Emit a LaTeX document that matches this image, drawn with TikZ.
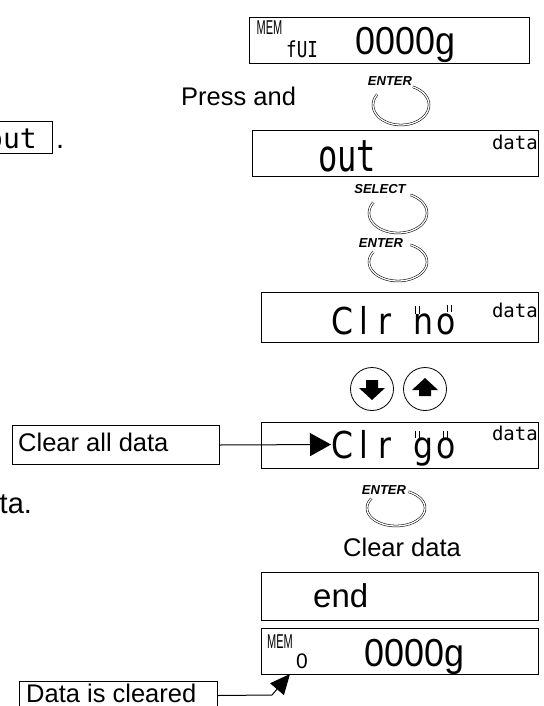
\documentclass[tikz,border=0pt]{standalone}
\usepackage{fontspec}
\usepackage{graphicx}
\setmainfont{Liberation Sans}
\newfontfamily\dvmono{DejaVu Sans Mono}
\newfontfamily\dvsans{DejaVu Sans}
\usetikzlibrary{arrows.meta,calc}
\newcommand\fsz[1]{\fontsize{#1}{#1}\selectfont}
\tikzset{
  lcdbox/.style={draw, line width=1.4pt, minimum height=46pt, inner sep=0pt},
  callout/.style={draw, line width=1pt, inner sep=0pt},
  txt/.style={inner sep=0pt, anchor=base west},
  btnlabel/.style={inner sep=0pt, font=\bfseries\itshape\fsz{13}},
  dbl/.style={double, double distance=1.3pt, line width=0.55pt},
  arrowbtn/.style={circle, draw, line width=0.8pt, minimum size=43pt, inner sep=0pt},
  tick/.style={line width=0.9pt},
  conn/.style={line width=1pt},
}
% button arc: centre x, centre y, x radius, y radius
\newcommand\btnarc[4]{\draw[dbl] plot[domain=-65:212, samples=60, smooth] ({#1+#3*cos(\x)},{#2+#4*sin(\x)});}
\begin{document}
\begin{tikzpicture}[x=1pt,y=-1pt]
\useasboundingbox (0,0) rectangle (543,706);
\begin{scope}
\clip (0,0) rectangle (543,706);
% LCD boxes
\node[lcdbox, minimum width=280pt, anchor=north west] (d1) at (249,17) {};
\node[lcdbox, minimum width=286pt, anchor=north west] (d2) at (252,130) {};
\node[lcdbox, minimum width=277pt, minimum height=50pt, anchor=north west] (d3) at (261,292) {};
\node[lcdbox, minimum width=277pt, anchor=north west] (d4) at (261,422) {};
\node[lcdbox, minimum width=277pt, minimum height=48pt, anchor=north west] (d5) at (261,572) {};
\node[lcdbox, minimum width=277pt, anchor=north west] (d6) at (261,628) {};
% display 1
\node[txt] (m1) at (256.5,35) {\scalebox{0.55}[1]{\fsz{20}MEM}};
\node[txt] (f1) at (286,58) {\dvmono\fsz{22}\scalebox{0.8}[1]{fUI}};
\node[txt] (g1) at (355,55) {\fsz{39}\scalebox{0.92}[1]{0000g}};
% display 2
\node[txt] (o2) at (318,171) {\dvmono\fsz{44}\scalebox{0.73}[1]{out}};
\node[txt, anchor=base east] (da2) at (538,149) {\dvmono\fsz{19}data};
% display 3
\node[txt] (c3) at (331,334) {\dvsans\fsz{37}\scalebox{0.85}[1]{C}};
\node[txt] (l3) at (359,334) {\dvsans\fsz{37}\scalebox{0.85}[1]{l}};
\node[txt] (r3) at (378,334) {\dvsans\fsz{37}\scalebox{0.85}[1]{r}};
\node[txt] (h3) at (413,334) {\dvsans\fsz{37}\scalebox{0.85}[1]{h}};
\node[txt] (b3) at (436,334) {\dvsans\fsz{37}\scalebox{0.85}[1]{o}};
\fill[white] (414,304) rectangle (421.5,313.5);
\draw[tick] (415.5,306) -- (415.5,314) (419.5,306) -- (419.5,314);
\draw[tick] (447,305) -- (447,312) (451,305) -- (451,312);
\node[txt, anchor=base east] (da3) at (538,317) {\dvmono\fsz{19}data};
% display 4
\node[txt] (c4) at (331,458) {\dvsans\fsz{37}\scalebox{0.85}[1]{C}};
\node[txt] (l4) at (359,458) {\dvsans\fsz{37}\scalebox{0.85}[1]{l}};
\node[txt] (r4) at (378,458) {\dvsans\fsz{37}\scalebox{0.85}[1]{r}};
\node[txt] (g4) at (413,458) {\dvsans\fsz{37}\scalebox{0.85}[1]{g}};
\node[txt] (b4) at (436,458) {\dvsans\fsz{37}\scalebox{0.85}[1]{o}};
\draw[tick] (415.5,431) -- (415.5,438) (419.5,431) -- (419.5,438);
\draw[tick] (443,431) -- (443,438) (447,431) -- (447,438);
\node[txt, anchor=base east] (da4) at (538,440) {\dvmono\fsz{19}data};
% display 5
\node[txt] (e5) at (313,607) {\fsz{33}end};
% display 6
\node[txt] (m6) at (267,648) {\scalebox{0.55}[1]{\fsz{20}MEM}};
\node[txt] (z6) at (296,668) {\fsz{21}0};
\node[txt] (g6) at (364,666) {\fsz{39}\scalebox{0.92}[1]{0000g}};
% buttons
\node[btnlabel] (b1l) at (390,81) {ENTER};
\btnarc{401}{105}{28}{20}
\node[btnlabel] (b2l) at (380,189) {SELECT};
\btnarc{398}{213}{29}{20}
\node[btnlabel] (b3l) at (381,243) {ENTER};
\btnarc{398}{262}{29}{19}
\node[btnlabel] (b4l) at (384,490) {ENTER};
\btnarc{396}{508}{29}{18}
% arrow buttons
\node[arrowbtn] (dn) at (372,389) {};
\node[arrowbtn] (up) at (425,389) {};
\fill (dn.center) ++(-6,-9) -- ++(12,0) -- ++(0,8) -- ++(7,0) -- ++(-13,12) -- ++(-13,-12) -- ++(7,0) -- cycle;
\fill (up.center) ++(-6,7) -- ++(12,0) -- ++(0,-6) -- ++(7,0) -- ++(-13,-12) -- ++(-13,12) -- ++(7,0) -- cycle;
% texts
\node[callout, minimum width=90pt, minimum height=31pt, anchor=east] (ob) at (53,137.5) {};
\node[txt, anchor=base east] (ot) at (37,148) {\dvmono\fsz{28}out};
\node[txt] (dot) at (56,148) {\fsz{29}.};
\node[txt] (pa) at (181,106) {\fsz{25.5}Press and};
\node[txt] (ta) at (-0.5,513) {\fsz{29}ta.};
\node[txt] (cd) at (343,556) {\fsz{25.5}Clear data};
% callouts
\node[callout, anchor=north west, minimum width=207pt, minimum height=39pt] (cad) at (12,425) {};
\node[txt] (cadt) at (18,451) {\fsz{25.5}Clear all data};
\coordinate (tri) at (331,444.5);
\draw[conn, -{Triangle[length=21pt,width=23pt]}] (cad.east) -- (tri);
\node[callout, anchor=north west, minimum width=198pt, minimum height=28pt] (dic) at (19,681) {};
\node[txt] (dict) at (26,702) {\fsz{25.5}Data is cleared};
\coordinate (elb) at (272,695);
\coordinate (dtip) at (290,674);
\draw[conn, -{Triangle[length=20pt,width=18pt]}] (dic.east) -- (elb) -- (dtip);
\end{scope}
\end{tikzpicture}
\end{document}
